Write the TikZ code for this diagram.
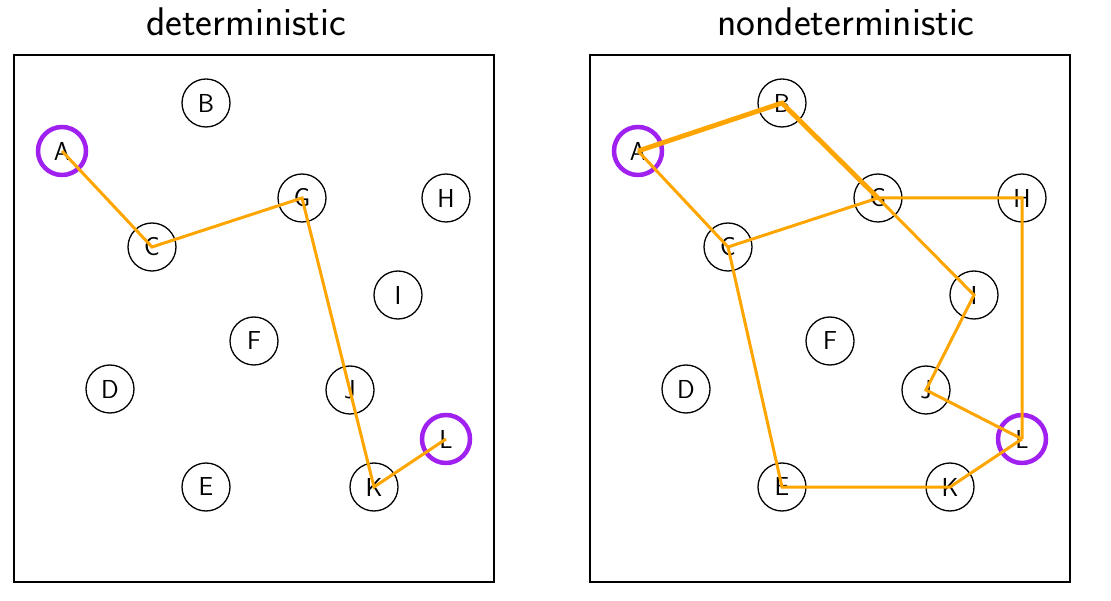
\documentclass[tikz,border=0pt]{standalone}
\usepackage{tikz}

\definecolor{startend}{HTML}{A020F0}
\definecolor{hopcol}{HTML}{FFA500}
\tikzset{
  state/.style={circle,draw,line width=1.3pt,minimum size=48pt,inner sep=0pt,
    font=\sffamily\fontsize{26}{26}\selectfont},
  goal/.style={draw=startend,line width=4.5pt},
  hop/.style={draw=hopcol,line width=3pt},
  bighop/.style={hop,line width=4.8pt},
  panel/.style={line width=1.3pt},
  title/.style={anchor=base,font=\sffamily\fontsize{40}{44}\selectfont}
}

\begin{document}
\begin{tikzpicture}[x=1pt,y=-1pt]
  \useasboundingbox (0,0) rectangle (1111,601);
  % the same twelve states in both panels
  \foreach \p/\s in {d/0,n/576}{
    \begin{scope}[xshift=\s pt]
      \draw[panel] (14,55) rectangle (494,582);
      \foreach \n/\x/\y in {A/62/151,B/206/103,C/152/247,D/110/389,E/206/487,F/254/341,
                            G/302/198,H/446/198,I/398/295,J/350/390,K/374/487,L/446/439}
        \node[state] (\p-\n) at (\x,\y) {\raisebox{-3pt}{\n}};
      \node[state,goal] at (\p-A) {};
      \node[state,goal] at (\p-L) {};
    \end{scope}
  }
  \node[title] (dtitle) at (246,36) {deterministic};
  \node[title] (ntitle) at (846,36) {nondeterministic};

  % deterministic run
  \draw[hop] (d-A.center) -- (d-C.center) -- (d-G.center) -- (d-K.center) -- (d-L.center);

  % nondeterministic runs
  \draw[bighop] (n-A.center) -- (n-B.center) -- (n-G.center);
  \draw[hop] (n-G.center) -- (n-I.center) -- (n-J.center) -- (n-L.center);
  \draw[hop] (n-A.center) -- (n-C.center) -- (n-G.center) -- (n-H.center) -- (n-L.center);
  \draw[hop] (n-C.center) -- (n-E.center) -- (n-K.center) -- (n-L.center);
\end{tikzpicture}
\end{document}
